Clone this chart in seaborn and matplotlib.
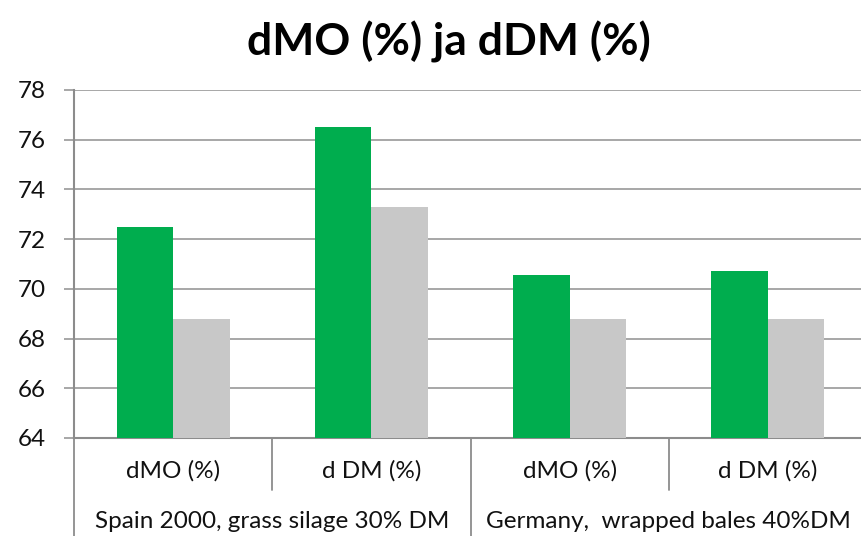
import matplotlib
matplotlib.use("Agg")
import matplotlib.pyplot as plt
import matplotlib.transforms as mtransforms
import seaborn as sns
import pandas as pd

# ---- data ----
title = "dMO (%) ja dDM (%)"
sub_labels = ["dMO (%)", "d DM (%)", "dMO (%)", "d DM (%)"]
group_labels = ["Spain 2000, grass silage 30% DM", "Germany,  wrapped bales 40%DM"]
series_names = ["Series 1", "Series 2"]
series1 = [72.5, 76.5, 70.55, 70.7]
series2 = [68.8, 73.3, 68.8, 68.8]

colors = ["#00AD4E", "#C8C8C8"]

sns.set_theme(style="white")
plt.rcParams["font.family"] = ["Lato", "DejaVu Sans"]

rows = []
for i in range(len(sub_labels)):
    rows.append({"pos": i, "series": series_names[0], "value": series1[i]})
    rows.append({"pos": i, "series": series_names[1], "value": series2[i]})
df = pd.DataFrame(rows)

W, H = 861, 536
fig = plt.figure(figsize=(W / 100, H / 100), dpi=100)
fig.patch.set_facecolor("white")
left, right, top, bottom = 74, 867, 90, 438
ax = fig.add_axes([left / W, 1 - bottom / H, (right - left) / W, (bottom - top) / H])

sns.barplot(data=df, x="pos", y="value", hue="series", order=list(range(4)),
            hue_order=series_names, palette=colors, width=0.57, gap=0,
            linewidth=0, saturation=1, ax=ax, legend=False, zorder=3)

ax.set_ylim(64, 78)
ax.set_yticks(range(64, 79, 2))
ax.set_xlim(-0.5, 3.5)
ax.set_xlabel("")
ax.set_ylabel("")
ax.set_xticks([])
ax.yaxis.grid(True, color="#A0A0A0", linewidth=1.3, zorder=0)
ax.set_axisbelow(True)
for s in ["top", "right"]:
    ax.spines[s].set_visible(False)
ax.spines["left"].set_color("#8C8C8C")
ax.spines["left"].set_linewidth(1.5)
ax.spines["bottom"].set_color("#8C8C8C")
ax.spines["bottom"].set_linewidth(1.5)
ax.tick_params(axis="y", which="major", direction="out", length=7, width=1.3,
               color="#A0A0A0", labelsize=17.5, pad=13, left=True)
for t in ax.get_yticklabels():
    t.set_color("#111111")

# category axis labels below
trans = mtransforms.blended_transform_factory(ax.transData, fig.transFigure)
def fy(py):
    return 1 - py / H

for i, lab in enumerate(sub_labels):
    ax.text(i, fy(471), lab, transform=trans, ha="center", va="center",
            fontsize=17.5, color="#111111", clip_on=False)
for g, lab in enumerate(group_labels):
    ax.text(2 * g + 0.5, fy(522), lab, transform=trans, ha="center", va="center",
            fontsize=17.5, color="#111111", clip_on=False)

line_kw = dict(color="#8C8C8C", linewidth=1.3, transform=trans, clip_on=False)
# left axis extension
ax.plot([-0.5, -0.5], [fy(438), fy(536)], **line_kw)
# inner separators
for x in [0.5, 2.5]:
    ax.plot([x, x], [fy(438), fy(490)], **line_kw)
# group separator
ax.plot([1.5, 1.5], [fy(438), fy(536)], **line_kw)

fig.text(449 / W, fy(42), title, ha="center", va="center", fontsize=32,
         fontweight="bold", color="#000000")

fig.savefig("out.png", dpi=100, facecolor="white")
